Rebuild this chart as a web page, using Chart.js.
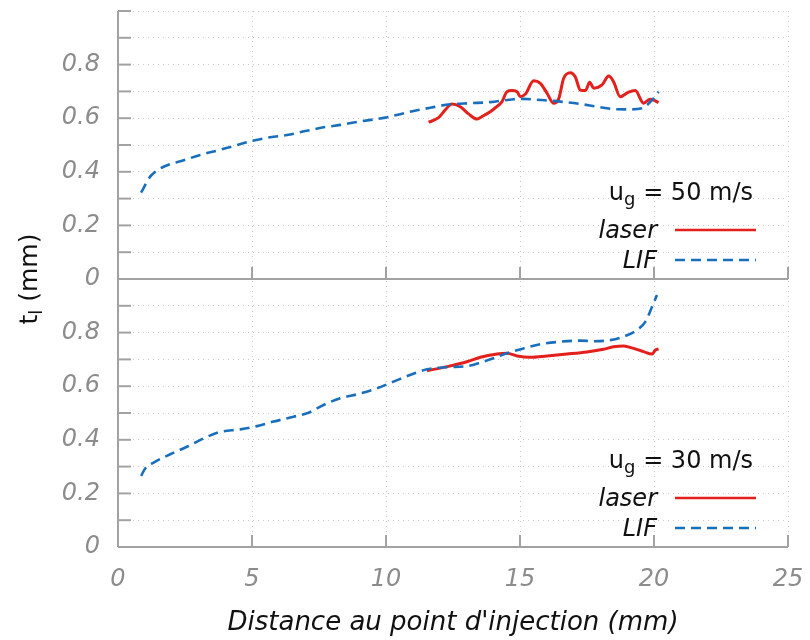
<!DOCTYPE html>
<html>
<head>
<meta charset="utf-8">
<script src="https://cdn.jsdelivr.net/npm/chart.js@4.4.1/dist/chart.umd.min.js"></script>
<style>
  html, body { margin: 0; padding: 0; background: #fff; }
  #wrap { width: 810px; height: 640px; position: relative; }
</style>
</head>
<body>
<div id="wrap"><canvas id="c"></canvas></div>
<script>
// distance from injection point (mm) and film thickness t_l (mm)
// upper panel, u_g = 50 m/s
const xLif50 = [0.86, 1.2, 1.39, 1.7, 2.39, 3.07, 3.69, 4.31, 5.0, 5.68, 6.3, 6.99, 7.67, 8.29, 8.98, 9.66, 10.1, 10.9, 11.65, 12.4, 13.15, 13.9, 14.76, 15.13, 15.76, 16.5, 17.25, 17.87, 18.49, 19.12, 19.55, 19.74, 19.93, 20.17];
const tLif50 = [0.322, 0.382, 0.40, 0.419, 0.441, 0.463, 0.479, 0.496, 0.515, 0.529, 0.537, 0.552, 0.566, 0.575, 0.587, 0.597, 0.605, 0.624, 0.639, 0.652, 0.656, 0.660, 0.671, 0.672, 0.668, 0.662, 0.653, 0.643, 0.634, 0.633, 0.637, 0.649, 0.668, 0.699];
const xLaser50 = [11.59, 11.96, 12.21, 12.46, 12.77, 13.08, 13.4, 13.58, 13.89, 14.08, 14.33, 14.51, 14.7, 14.89, 15.01, 15.2, 15.51, 15.76, 16.01, 16.25, 16.44, 16.63, 16.88, 17.06, 17.25, 17.44, 17.6, 17.75, 18.06, 18.31, 18.49, 18.74, 19.05, 19.3, 19.61, 19.86, 20.05, 20.17];
const tLaser50 = [0.585, 0.602, 0.631, 0.653, 0.643, 0.616, 0.597, 0.606, 0.624, 0.639, 0.662, 0.699, 0.703, 0.699, 0.680, 0.690, 0.740, 0.730, 0.693, 0.656, 0.671, 0.749, 0.770, 0.755, 0.705, 0.703, 0.734, 0.712, 0.724, 0.757, 0.736, 0.680, 0.697, 0.703, 0.656, 0.671, 0.665, 0.658];
// lower panel, u_g = 30 m/s
const xLif30 = [0.86, 1.02, 1.33, 1.95, 2.57, 3.19, 3.75, 4.56, 5.19, 5.81, 6.55, 7.11, 7.67, 8.29, 8.98, 9.66, 10.28, 10.9, 11.53, 12.28, 13.02, 13.52, 14.01, 14.51, 15.13, 15.76, 16.5, 17.25, 17.75, 18.37, 18.87, 19.37, 19.68, 19.93, 20.11];
const tLif30 = [0.265, 0.294, 0.315, 0.346, 0.374, 0.405, 0.428, 0.439, 0.451, 0.468, 0.486, 0.501, 0.530, 0.555, 0.571, 0.592, 0.617, 0.642, 0.663, 0.671, 0.675, 0.688, 0.704, 0.723, 0.741, 0.757, 0.766, 0.770, 0.768, 0.772, 0.785, 0.810, 0.841, 0.897, 0.940];
const xLaser30 = [11.53, 12.28, 13.02, 13.52, 14.14, 14.51, 14.89, 15.38, 16.01, 16.75, 17.5, 18.12, 18.49, 18.87, 19.24, 19.61, 19.93, 20.05, 20.17];
const tLaser30 = [0.658, 0.673, 0.691, 0.708, 0.720, 0.723, 0.713, 0.708, 0.713, 0.720, 0.728, 0.738, 0.747, 0.750, 0.741, 0.729, 0.720, 0.735, 0.739];

const xTicks = [0, 5, 10, 15, 20, 25];
const yLabels = [0, 0.2, 0.4, 0.6, 0.8];
const panelLabels = ["50 m/s", "30 m/s"];
const seriesNames = ["laser", "LIF"];

const FONT = '"DejaVu Sans", "Liberation Sans", sans-serif';
const RED = "#e3201b", BLUE = "#1a6fbd", AXIS = "#a2a2a2", TICKTXT = "#8c8c8c", GRID = "#c9c9c9";
const DASH = [10, 6];

const pts = (xs, ys) => xs.map((x, i) => ({ x, y: ys[i] }));

function yTickLabel(v) {
  const hit = yLabels.find(l => Math.abs(l - v) < 1e-6);
  if (hit === undefined) return "";
  return hit === 0 ? "0" : hit.toFixed(1);
}

function yScale() {
  return {
    type: "linear", min: 0, max: 1, position: "left", stack: "panels", stackWeight: 1,
    ticks: { stepSize: 0.1, autoSkip: false, padding: 18, color: TICKTXT, font: { family: FONT, size: 24, style: "italic" }, callback: yTickLabel },
    grid: { color: GRID, lineWidth: 1, drawTicks: false },
    border: { display: false, dash: [1, 4] },
    afterFit(s) { s.width = 118; s.paddingTop = 0; s.paddingBottom = 0; }
  };
}

// axis frame, inner ticks, legends and titles
const frame = {
  id: "frame",
  afterDraw(chart) {
    const { ctx, chartArea: a, scales } = chart;
    const x = scales.x;
    const panels = [scales.yTop, scales.yBot];
    const line = (x1, y1, x2, y2) => { ctx.beginPath(); ctx.moveTo(x1, y1); ctx.lineTo(x2, y2); ctx.stroke(); };
    ctx.save();
    ctx.strokeStyle = AXIS; ctx.lineWidth = 2; ctx.setLineDash([]);
    line(a.left, a.top, a.left, a.bottom);
    panels.forEach((ys, i) => {
      const y0 = ys.getPixelForValue(0);
      line(a.left, y0, a.right, y0);
      ys.ticks.forEach(t => { const p = ys.getPixelForValue(t.value); line(a.left, p, a.left + 13, p); });
      xTicks.forEach(v => { if (v === 0) return; const p = x.getPixelForValue(v); line(p, y0, p, y0 - 12); });

      // legend block
      ctx.fillStyle = "#111";
      ctx.textBaseline = "alphabetic";
      const rEdge = a.right - 35;
      ctx.font = "24px " + FONT;
      const rest = " = " + panelLabels[i];
      const wu = ctx.measureText("u").width, wr = ctx.measureText(rest).width;
      ctx.font = "18px " + FONT;
      const wg = ctx.measureText("g").width;
      let sx = rEdge - wu - wg - wr;
      ctx.font = "24px " + FONT;
      ctx.textAlign = "left";
      ctx.fillText("u", sx, y0 - 79);
      ctx.font = "18px " + FONT;
      ctx.fillText("g", sx + wu, y0 - 74);
      ctx.font = "24px " + FONT;
      ctx.fillText(rest, sx + wu + wg, y0 - 79);

      ctx.font = "italic 24px " + FONT;
      ctx.textAlign = "right";
      ctx.fillText(seriesNames[0], a.right - 131, y0 - 41);
      ctx.fillText(seriesNames[1], a.right - 131, y0 - 11);
      ctx.lineWidth = 2.6;
      ctx.strokeStyle = RED;
      line(a.right - 113, y0 - 49, a.right - 32, y0 - 49);
      ctx.strokeStyle = BLUE; ctx.setLineDash(DASH);
      line(a.right - 113, y0 - 19, a.right - 32, y0 - 19);
      ctx.setLineDash([]);
      ctx.strokeStyle = AXIS; ctx.lineWidth = 2;
    });

    // x title
    ctx.fillStyle = "#111";
    ctx.font = "italic 26px " + FONT;
    ctx.textAlign = "center";
    ctx.fillText("Distance au point d'injection (mm)", (a.left + a.right) / 2, 630);

    // y title with subscript
    ctx.translate(37, (a.top + a.bottom) / 2);
    ctx.rotate(-Math.PI / 2);
    ctx.textAlign = "left";
    ctx.font = "25px " + FONT;
    const wt = ctx.measureText("t").width, wm = ctx.measureText(" (mm)").width;
    ctx.font = "18px " + FONT;
    const wl = ctx.measureText("l").width;
    const st = -(wt + wl + wm) / 2;
    ctx.font = "25px " + FONT;
    ctx.fillText("t", st, 0);
    ctx.font = "18px " + FONT;
    ctx.fillText("l", st + wt, 5);
    ctx.font = "25px " + FONT;
    ctx.fillText(" (mm)", st + wt + wl, 0);
    ctx.restore();
  }
};

const lineDs = (label, data, axis, color, dash) => ({
  label, data, yAxisID: axis, borderColor: color, borderWidth: dash ? 2.6 : 3,
  borderDash: dash || [], pointRadius: 0, fill: false, cubicInterpolationMode: "monotone"
});

new Chart(document.getElementById("c").getContext("2d"), {
  type: "line",
  data: {
    datasets: [
      lineDs("LIF 50", pts(xLif50, tLif50), "yTop", BLUE, DASH),
      lineDs("laser 50", pts(xLaser50, tLaser50), "yTop", RED),
      lineDs("LIF 30", pts(xLif30, tLif30), "yBot", BLUE, DASH),
      lineDs("laser 30", pts(xLaser30, tLaser30), "yBot", RED)
    ]
  },
  options: {
    responsive: true, maintainAspectRatio: false, animation: false,
    layout: { padding: { top: 11, right: 22, left: 0, bottom: 0 } },
    plugins: { legend: { display: false }, tooltip: { enabled: false } },
    scales: {
      x: {
        type: "linear", min: 0, max: 25, position: "bottom",
        ticks: { stepSize: 5, padding: 18, color: TICKTXT, font: { family: FONT, size: 24, style: "italic" } },
        grid: { color: GRID, lineWidth: 1, drawTicks: false },
        border: { display: false, dash: [1, 4] },
        afterFit(s) { s.height = 93; s.paddingLeft = 0; s.paddingRight = 0; }
      },
      // listed bottom-first: the layout stacks them in reverse order
      yBot: yScale(),
      yTop: yScale()
    }
  },
  plugins: [frame]
});
</script>
</body>
</html>
